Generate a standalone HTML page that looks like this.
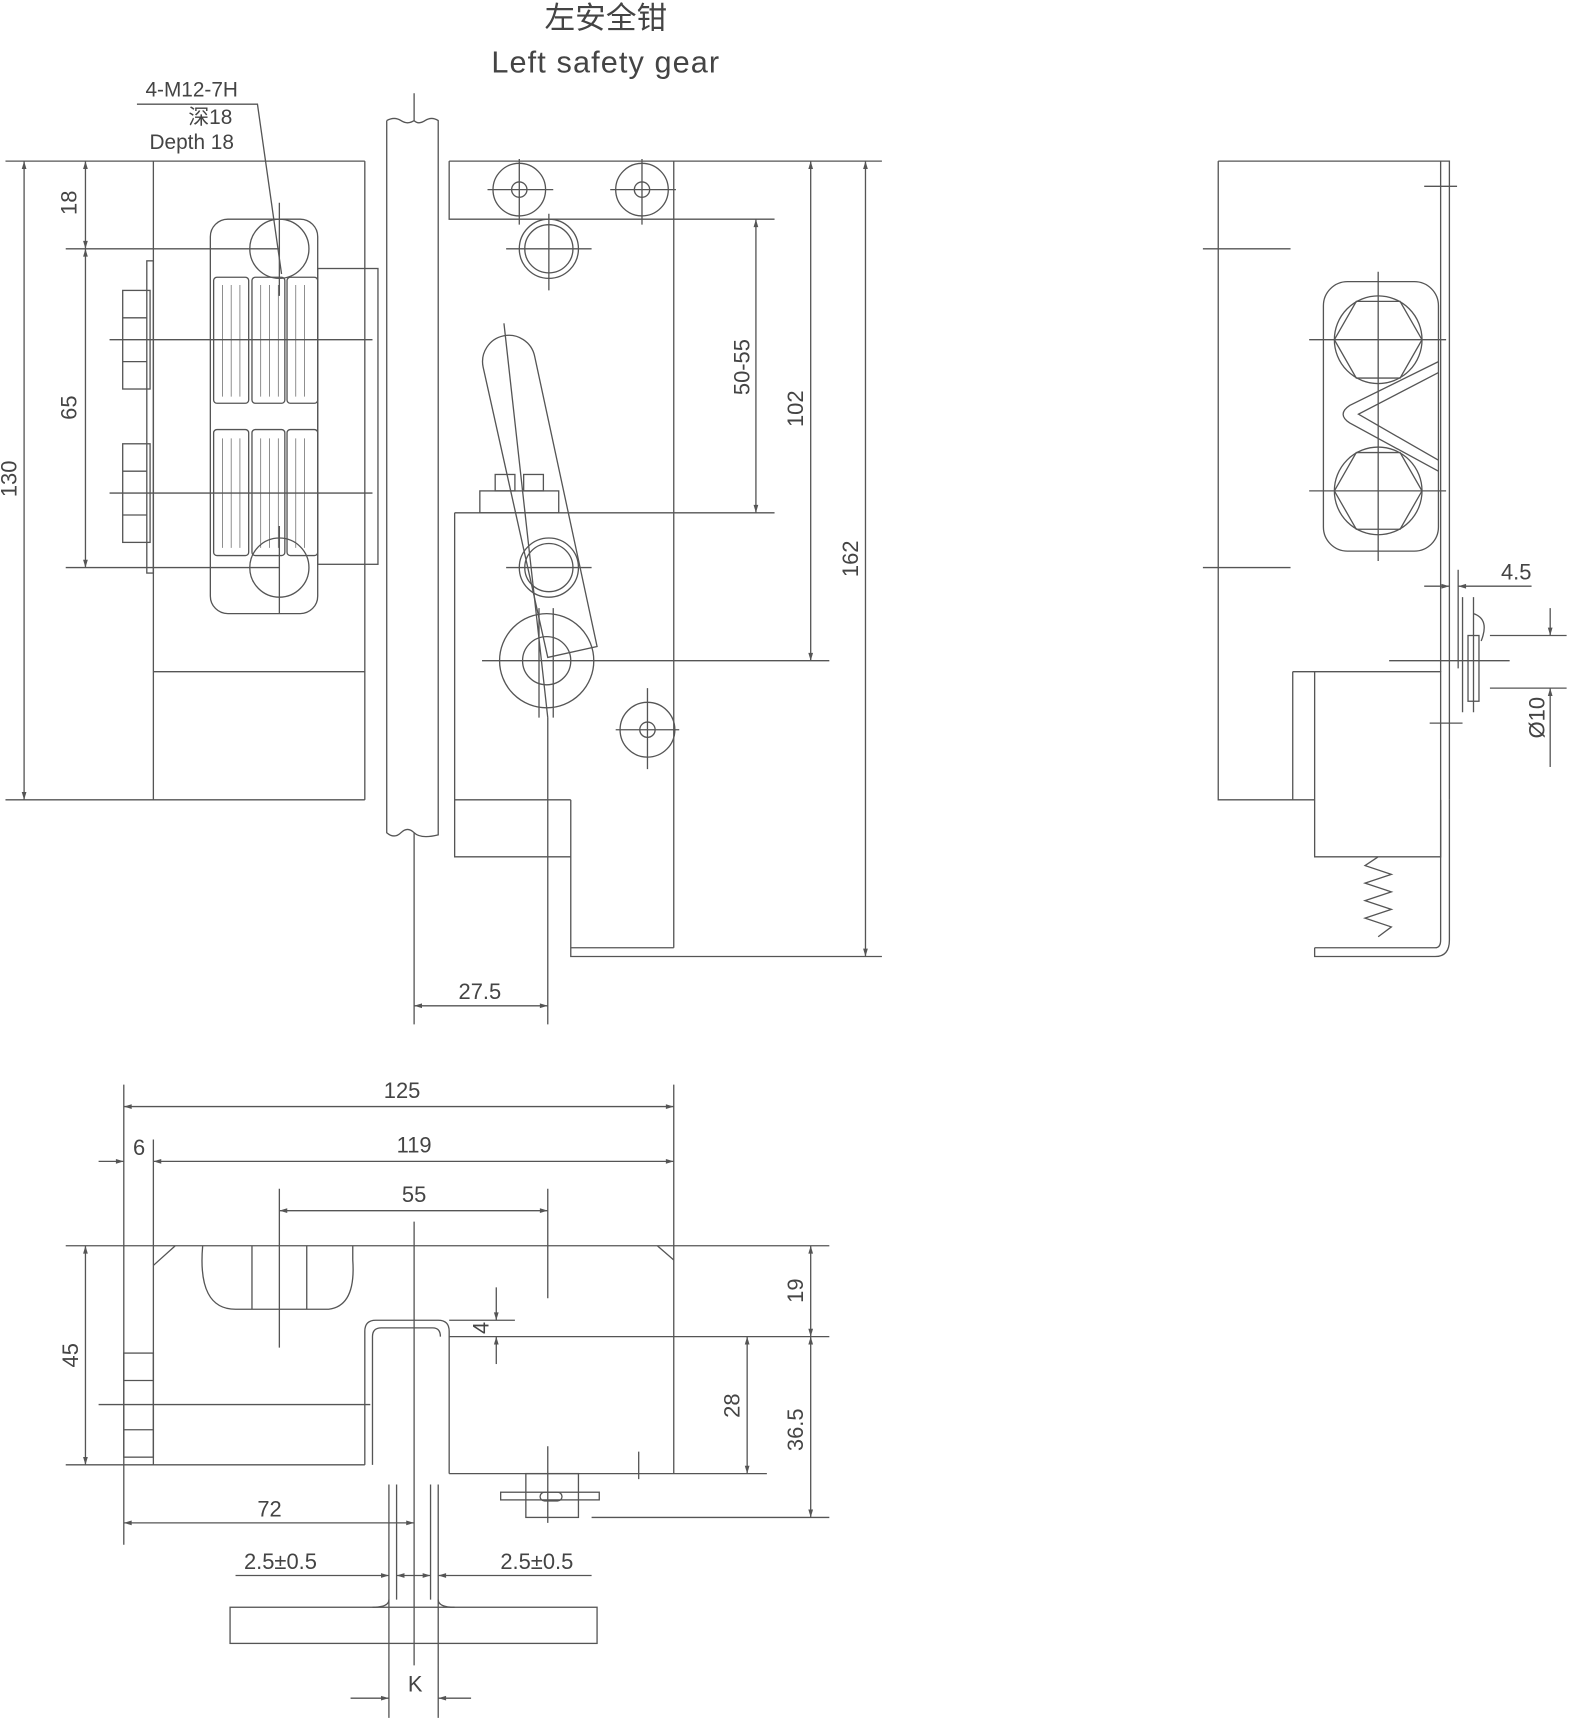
<!DOCTYPE html>
<html><head><meta charset="utf-8"><style>
html,body{margin:0;padding:0;background:#fff;}
svg{display:block;}
text{font-family:"Liberation Sans","Noto Sans CJK SC",sans-serif;fill:#444;}
</style></head><body>
<svg width="1571" height="1718" viewBox="0 0 1434 1568" xmlns="http://www.w3.org/2000/svg">
<defs>
<marker id="a" viewBox="0 0 10 10" refX="10" refY="5" markerWidth="10" markerHeight="6" orient="auto-start-reverse"><path d="M0,2 L10,5 L0,8 z" fill="#555"/></marker>
</defs>
<g fill="none" stroke="#555" stroke-width="1.2">
<!-- title -->
</g>
<text x="553" y="26" font-size="28" text-anchor="middle">左安全钳</text>
<text x="553" y="66" font-size="28" text-anchor="middle" letter-spacing="1">Left safety gear</text>
<text x="175" y="88" font-size="19" text-anchor="middle">4-M12-7H</text>
<text x="192" y="113" font-size="19" text-anchor="middle">深18</text>
<text x="175" y="136" font-size="19" text-anchor="middle">Depth 18</text>

<g fill="none" stroke="#555" stroke-width="1.2">
<!-- leader -->
<path d="M125,95 H235 L257,250"/>
<!-- front view left -->
<path d="M5,147 H333 M5,730 H333 M140,147 V730 M333,147 V730 M140,613 H333"/>
<path d="M22,147 V730" marker-start="url(#a)" marker-end="url(#a)"/>
<path d="M78,147 V227" marker-start="url(#a)" marker-end="url(#a)"/>
<path d="M78,227 V518" marker-start="url(#a)" marker-end="url(#a)"/>
<path d="M60,227 H255 M60,518 H255"/>
<rect x="134" y="238" width="6" height="285"/>
<rect x="112" y="265" width="25" height="90"/><rect x="112" y="405" width="25" height="90"/>
<path d="M112,290 H134 M112,330 H134 M112,430 H134 M112,470 H134"/>
<path d="M100,310 H340 M100,450 H340"/>
<rect x="192" y="200" width="98" height="360" rx="16"/>
<rect x="290" y="245" width="55" height="270"/>
<circle cx="255" cy="227" r="27"/><circle cx="255" cy="518" r="27"/>
<path d="M255,185 V270 M255,480 V560"/>
<rect x="195" y="253" width="32" height="115" rx="3"/><rect x="230" y="253" width="30" height="115" rx="3"/><rect x="262" y="253" width="28" height="115" rx="3"/>
<rect x="195" y="392" width="32" height="115" rx="3"/><rect x="230" y="392" width="30" height="115" rx="3"/><rect x="262" y="392" width="28" height="115" rx="3"/>
<path d="M203,260 V362 M211,260 V362 M219,260 V362 M238,260 V362 M246,260 V362 M254,260 V362 M270,260 V362 M278,260 V362 M203,400 V500 M211,400 V500 M219,400 V500 M238,400 V500 M246,400 V500 M254,400 V500 M270,400 V500 M278,400 V500" stroke-width="0.6"/>
<!-- rail -->
<path d="M353,110 Q360,106 366,110 T378,110 V85 M353,110 V760 Q360,766 366,760 T378,760 T400,762 V110 Q394,106 388,110 T378,110"/>
<path d="M378,760 V935"/>
<!-- right part -->
<path d="M410,147 H805 M410,147 V200 H707 M615,147 V865 M415,468 H707 M415,468 V782 H521 V730 M415,730 H521 M521,782 V873 H805 M521,865 H615"/>
<path d="M740,147 V603" marker-start="url(#a)" marker-end="url(#a)"/>
<path d="M790,147 V873" marker-start="url(#a)" marker-end="url(#a)"/>
<path d="M690,200 V468" marker-start="url(#a)" marker-end="url(#a)"/>
<path d="M440,603 H757"/>
<circle cx="474" cy="173" r="24"/><circle cx="474" cy="173" r="7"/><path d="M445,173 H505 M474,145 V205"/>
<circle cx="586" cy="173" r="24"/><circle cx="586" cy="173" r="7"/><path d="M557,173 H617 M586,145 V205"/>
<circle cx="501" cy="227" r="27"/><circle cx="501" cy="227" r="22"/><path d="M462,227 H540 M501,195 V265"/>
<circle cx="501" cy="518" r="27"/><circle cx="501" cy="518" r="22"/><path d="M462,518 H540"/>
<circle cx="499" cy="603" r="43"/><circle cx="499" cy="603" r="22"/>
<circle cx="591" cy="666" r="25"/><circle cx="591" cy="666" r="7"/><path d="M562,666 H620 M591,628 V702"/>
<path d="M441,335 A24,24 0 0 1 488,325 L545,590 L500,600 Z"/>
<path d="M460,295 L500,655 M492,555 V655 M505,555 V655"/>
<rect x="438" y="448" width="72" height="20"/><rect x="452" y="433" width="18" height="15"/><rect x="478" y="433" width="18" height="15"/>
<path d="M378,918 H500" marker-start="url(#a)" marker-end="url(#a)"/>
<path d="M500,655 V935"/>

<!-- side view -->
<path d="M1112,147 V730 H1200 M1112,147 H1323 V730 M1315,147 V613 M1300,170 H1330 M1098,227 H1178 M1098,518 H1178"/>
<rect x="1208" y="257" width="105" height="246" rx="22"/>
<circle cx="1258" cy="310" r="40"/><circle cx="1258" cy="448" r="40"/>
<path d="M1218,310 L1238,275 H1278 L1298,310 L1278,345 H1238 Z M1218,448 L1238,413 H1278 L1298,448 L1278,483 H1238 Z"/>
<path d="M1313,330 L1232,370 Q1220,378 1232,386 L1313,430 M1313,340 L1240,378 L1313,420"/>
<path d="M1195,310 H1320 M1195,448 H1320 M1258,248 V512"/>
<path d="M1180,613 H1315 V782 H1200 V613 M1180,613 V730"/>
<path d="M1258,782 L1246,790 L1270,798 L1246,806 L1270,814 L1246,822 L1270,830 L1246,838 L1270,846 L1258,855"/>
<path d="M1200,865 H1310 Q1315,865 1315,858 V730 M1200,865 V873 H1310 Q1323,873 1323,858 V730"/>
<path d="M1268,603 H1378 M1335,545 V650 M1345,545 V650 M1305,660 H1335"/>
<rect x="1340" y="580" width="10" height="60"/><path d="M1345,560 Q1360,565 1352,585"/>
<path d="M1300,535 H1323" marker-end="url(#a)"/><path d="M1398,535 H1331" marker-end="url(#a)"/><path d="M1331,520 V610"/>
<path d="M1415,555 V580" marker-end="url(#a)"/><path d="M1415,700 V628" marker-end="url(#a)"/>
<path d="M1360,580 H1430 M1360,628 H1430"/>

<!-- bottom view -->
<path d="M113,990 V1410 M615,990 V1137 M140,1040 V1137 M255,1085 V1230 M500,1085 V1185"/>
<path d="M113,1010 H615" marker-start="url(#a)" marker-end="url(#a)"/>
<path d="M140,1060 H615" marker-start="url(#a)" marker-end="url(#a)"/>
<path d="M90,1060 H113" marker-end="url(#a)"/>
<path d="M255,1105 H500" marker-start="url(#a)" marker-end="url(#a)"/>
<path d="M60,1137 H757 M60,1337 H333 M140,1137 V1337 M615,1137 V1345 H410 M410,1220 H757 M540,1385 H757 M410,1345 H700"/>
<path d="M140,1155 L160,1137 M600,1137 L615,1150"/>
<rect x="113" y="1235" width="27" height="95"/><path d="M113,1260 H140 M113,1305 H140 M90,1282 H338"/>
<path d="M185,1137 Q180,1195 215,1195 H300 Q325,1192 322,1150 L322,1137 M230,1137 V1195 M280,1137 V1195"/>
<path d="M333,1337 V1215 Q333,1205 343,1205 H400 Q410,1205 410,1215 V1345 M340,1337 V1220 Q340,1212 348,1212 H395 Q402,1212 402,1220"/>
<path d="M355,1355 V1568 M400,1355 V1568 M362,1355 V1460 M393,1355 V1460 M378,1115 V1520"/>
<rect x="210" y="1467" width="335" height="33"/>
<path d="M355,1460 Q355,1467 340,1467 M400,1460 Q400,1467 415,1467"/>
<path d="M740,1137 V1220" marker-start="url(#a)" marker-end="url(#a)"/>
<path d="M740,1220 V1385" marker-start="url(#a)" marker-end="url(#a)"/>
<path d="M682,1220 V1345" marker-start="url(#a)" marker-end="url(#a)"/>
<path d="M78,1137 V1337" marker-start="url(#a)" marker-end="url(#a)"/>
<path d="M453,1175 V1205" marker-end="url(#a)"/><path d="M453,1245 V1220" marker-end="url(#a)"/><path d="M410,1205 H470"/>
<path d="M113,1390 H378" marker-start="url(#a)" marker-end="url(#a)"/>
<path d="M215,1438 H355" marker-end="url(#a)"/><path d="M378,1438 H362" marker-end="url(#a)"/>
<path d="M540,1438 H400" marker-end="url(#a)"/><path d="M378,1438 H393" marker-end="url(#a)"/>
<path d="M320,1550 H355" marker-end="url(#a)"/><path d="M430,1550 H400" marker-end="url(#a)"/>
<rect x="457" y="1362" width="90" height="7"/><rect x="480" y="1345" width="48" height="40"/>
<rect x="493" y="1362" width="20" height="8" rx="4"/><path d="M500,1320 V1390 M583,1325 V1350"/>
</g>

<g font-size="20">
<text transform="translate(70,185) rotate(-90)" text-anchor="middle">18</text>
<text transform="translate(70,372) rotate(-90)" text-anchor="middle">65</text>
<text transform="translate(15,437) rotate(-90)" text-anchor="middle">130</text>
<text transform="translate(684,335) rotate(-90)" text-anchor="middle">50-55</text>
<text transform="translate(733,373) rotate(-90)" text-anchor="middle">102</text>
<text transform="translate(783,510) rotate(-90)" text-anchor="middle">162</text>
<text x="438" y="912" text-anchor="middle">27.5</text>
<text x="1384" y="529" text-anchor="middle">4.5</text>
<text transform="translate(1410,655) rotate(-90)" text-anchor="middle">Ø10</text>
<text x="367" y="1002" text-anchor="middle">125</text>
<text x="127" y="1054" text-anchor="middle">6</text>
<text x="378" y="1052" text-anchor="middle">119</text>
<text x="378" y="1097" text-anchor="middle">55</text>
<text transform="translate(733,1178) rotate(-90)" text-anchor="middle">19</text>
<text transform="translate(733,1305) rotate(-90)" text-anchor="middle">36.5</text>
<text transform="translate(675,1283) rotate(-90)" text-anchor="middle">28</text>
<text transform="translate(446,1212) rotate(-90)" text-anchor="middle">4</text>
<text transform="translate(71,1237) rotate(-90)" text-anchor="middle">45</text>
<text x="246" y="1384" text-anchor="middle">72</text>
<text x="256" y="1432" text-anchor="middle">2.5±0.5</text>
<text x="490" y="1432" text-anchor="middle">2.5±0.5</text>
<text x="379" y="1544" text-anchor="middle">K</text>
</g>
</svg>
</body></html>
